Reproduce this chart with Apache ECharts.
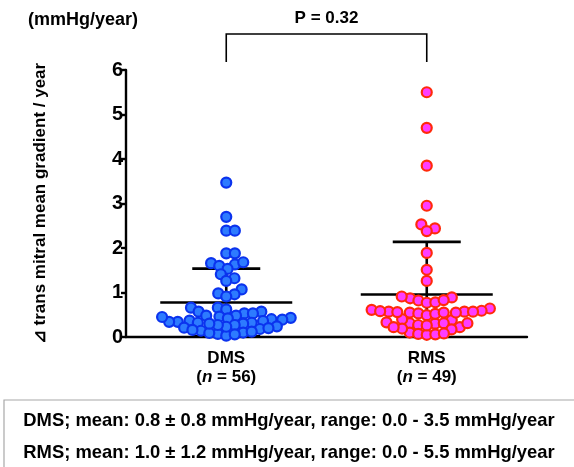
<!DOCTYPE html>
<html>
<head>
<meta charset="utf-8">
<script src="https://cdn.jsdelivr.net/npm/echarts@6/dist/echarts.min.js"></script>
<style>
  html, body { margin: 0; padding: 0; background: #fff; }
  #chart { width: 574px; height: 467px; }
</style>
</head>
<body>
<div id="chart"></div>
<script>
// values (mmHg/year)
var categories = ['DMS', 'RMS'];
var dmsValues = [
    3.47, 2.70, 2.39, 2.39, 1.88, 1.88, 1.66, 1.60, 1.63, 1.68,
    1.53, 1.41, 1.32, 1.26, 1.07, 0.98, 0.96, 0.91,
    0.66, 0.66, 0.62, 0.57, 0.57, 0.53, 0.53,
    0.48, 0.46, 0.43, 0.40, 0.37, 0.34, 0.32, 0.32, 0.34, 0.36, 0.39, 0.42, 0.45, 0.48,
    0.30, 0.27, 0.24, 0.21, 0.18, 0.14, 0.10, 0.07, 0.03, 0.06, 0.09, 0.12, 0.16, 0.20, 0.23, 0.27, 0.30
];
var rmsValues = [
    5.50, 4.70, 3.85, 2.95, 2.53, 2.44, 2.38, 1.89, 1.51, 1.26,
    0.87, 0.82, 0.77, 0.91, 0.89, 0.78, 0.83,
    0.61, 0.64,
    0.59, 0.57, 0.57, 0.55, 0.53, 0.49, 0.38, 0.31, 0.30, 0.33, 0.40, 0.52, 0.55, 0.55, 0.56, 0.57, 0.58,
    0.31, 0.27, 0.22, 0.17, 0.10, 0.07, 0.05, 0.06, 0.08, 0.19, 0.22, 0.26, 0.31
];
var yTicks = [0, 1, 2, 3, 4, 5, 6];
var pValueText = 'P = 0.32';
var summaryLines = [
    'DMS; mean: 0.8 \u00b1 0.8 mmHg/year, range: 0.0 - 3.5 mmHg/year',
    'RMS; mean: 1.0 \u00b1 1.2 mmHg/year, range: 0.0 - 5.5 mmHg/year'
];

var FONT = '"Liberation Sans", Arial, Helvetica, sans-serif';
var grid = { left: 126, right: 47, top: 70, bottom: 130 };
var gridW = 574 - grid.left - grid.right;
var gridH = 467 - grid.top - grid.bottom;
var pxPerX = gridW / 2;
var pxPerY = gridH / (yTicks[yTicks.length - 1] - yTicks[0]);

// beeswarm: put each point (lowest first) as near the centre as it fits
function swarm(values, d) {
    var order = values.map(function (v, i) { return i; }).sort(function (a, b) { return values[a] - values[b]; });
    var placed = [];
    var out = [];
    var flip = 1;
    order.forEach(function (i) {
        var y = values[i] * pxPerY;
        var cands = [0];
        placed.forEach(function (p) {
            var dy = Math.abs(p.y - y);
            if (dy < d) {
                var dx = Math.sqrt(d * d - dy * dy);
                cands.push(p.x + dx, p.x - dx);
            }
        });
        cands.sort(function (a, b) {
            return (Math.abs(a) - Math.abs(b)) || (a - b) * flip;
        });
        var x = cands.find(function (c) {
            return placed.every(function (p) {
                return (p.x - c) * (p.x - c) + (p.y - y) * (p.y - y) >= d * d - 1e-6;
            });
        });
        flip = -flip;
        placed.push({ x: x, y: y });
        out[i] = x;
    });
    return out;
}

function stats(values) {
    var n = values.length;
    var mean = values.reduce(function (s, v) { return s + v; }, 0) / n;
    var ss = values.reduce(function (s, v) { return s + (v - mean) * (v - mean); }, 0);
    return { mean: mean, sd: Math.sqrt(ss / (n - 1)) };
}

function swarmData(values, centre) {
    var offs = swarm(values, 8.6);
    return values.map(function (v, i) { return [centre + offs[i] / pxPerX, v]; });
}

var groups = [dmsValues, rmsValues];
var errData = groups.map(function (vals, i) {
    var s = stats(vals);
    return [i + 0.5, s.mean, s.sd];
});

function renderErr(params, api) {
    var x = api.value(0), m = api.value(1), sd = api.value(2);
    var c = api.coord([x, m]);
    var top = api.coord([x, m + sd]);
    var bot = api.coord([x, Math.max(0, m - sd)]);
    var st = { stroke: '#000', lineWidth: 2.6 };
    var kids = [
        { type: 'line', shape: { x1: c[0], y1: top[1], x2: c[0], y2: bot[1] }, style: st },
        { type: 'line', shape: { x1: c[0] - 66, y1: c[1], x2: c[0] + 66, y2: c[1] }, style: st },
        { type: 'line', shape: { x1: c[0] - 34, y1: top[1], x2: c[0] + 34, y2: top[1] }, style: st }
    ];
    if (m - sd > 0) {
        kids.push({ type: 'line', shape: { x1: c[0] - 34, y1: bot[1], x2: c[0] + 34, y2: bot[1] }, style: st });
    }
    return { type: 'group', children: kids };
}

function renderBracket(params, api) {
    var a = api.coord([0.5, 0]);
    var b = api.coord([1.5, 0]);
    return {
        type: 'group',
        children: [
            { type: 'polyline', shape: { points: [[a[0], 62], [a[0], 34], [b[0], 34], [b[0], 62]] },
              style: { stroke: '#000', lineWidth: 1.6, fill: null } },
            { type: 'text', x: (a[0] + b[0]) / 2, y: 18,
              style: { text: pValueText, font: 'bold 17px ' + FONT, fill: '#000', align: 'center', verticalAlign: 'middle' } }
        ]
    };
}

var chart = echarts.init(document.getElementById('chart'));
chart.setOption({
    animation: false,
    backgroundColor: '#fff',
    grid: grid,
    xAxis: [{
        type: 'category',
        data: categories,
        boundaryGap: true,
        axisLine: { lineStyle: { color: '#000', width: 2.4 } },
        axisTick: { alignWithLabel: true, length: 5, lineStyle: { color: '#000', width: 2.4 } },
        axisLabel: {
            margin: 12,
            formatter: function (v, i) {
                return '{b|' + v + '}\n{b|(}{i|n}{b| = ' + groups[i].length + ')}';
            },
            rich: {
                b: { fontFamily: FONT, fontWeight: 'bold', fontSize: 17, color: '#000', lineHeight: 19 },
                i: { fontFamily: FONT, fontWeight: 'bold', fontStyle: 'italic', fontSize: 17, color: '#000', lineHeight: 19 }
            }
        },
        splitLine: { show: false }
    }, {
        type: 'value',
        min: 0, max: 2,
        show: false
    }],
    yAxis: {
        type: 'value',
        min: yTicks[0], max: yTicks[yTicks.length - 1], interval: 1,
        name: '\u22bf trans mitral mean gradient / year',
        nameLocation: 'middle',
        nameGap: 77,
        nameTextStyle: { fontFamily: FONT, fontWeight: 'bold', fontSize: 17, color: '#000' },
        axisLine: { show: true, lineStyle: { color: '#000', width: 2.4 } },
        axisTick: { show: true, length: 5, lineStyle: { color: '#000', width: 2.4 } },
        axisLabel: { margin: 3, fontFamily: FONT, fontWeight: 'bold', fontSize: 20, color: '#000' },
        splitLine: { show: false }
    },
    graphic: [
        { type: 'text', left: 28, top: 11,
          style: { text: '(mmHg/year)', font: 'bold 18px ' + FONT, fill: '#000' } },
        { type: 'rect', shape: { x: 4, y: 400, width: 600, height: 100 },
          style: { fill: null, stroke: '#a8a8a8', lineWidth: 1.2 } },
        { type: 'text', x: 289, y: 421,
          style: { text: summaryLines[0], font: 'bold 18.4px ' + FONT, fill: '#000', align: 'center', verticalAlign: 'middle' } },
        { type: 'text', x: 289, y: 453,
          style: { text: summaryLines[1], font: 'bold 18.4px ' + FONT, fill: '#000', align: 'center', verticalAlign: 'middle' } }
    ],
    series: [{
        type: 'custom',
        xAxisIndex: 1,
        renderItem: renderErr,
        data: errData,
        z: 1
    }, {
        type: 'scatter',
        xAxisIndex: 1,
        symbol: 'circle',
        symbolSize: 10,
        itemStyle: { color: '#2d7bff', borderColor: '#0b33ee', borderWidth: 2.2, opacity: 1 },
        data: swarmData(dmsValues, 0.5),
        z: 3
    }, {
        type: 'scatter',
        xAxisIndex: 1,
        symbol: 'circle',
        symbolSize: 10,
        itemStyle: { color: '#ff3cff', borderColor: '#ff2a0a', borderWidth: 2.2, opacity: 1 },
        data: swarmData(rmsValues, 1.5),
        z: 3
    }, {
        type: 'custom',
        xAxisIndex: 1,
        renderItem: renderBracket,
        data: [[1, 0]],
        clip: false,
        silent: true,
        z: 2
    }]
});
</script>
</body>
</html>
